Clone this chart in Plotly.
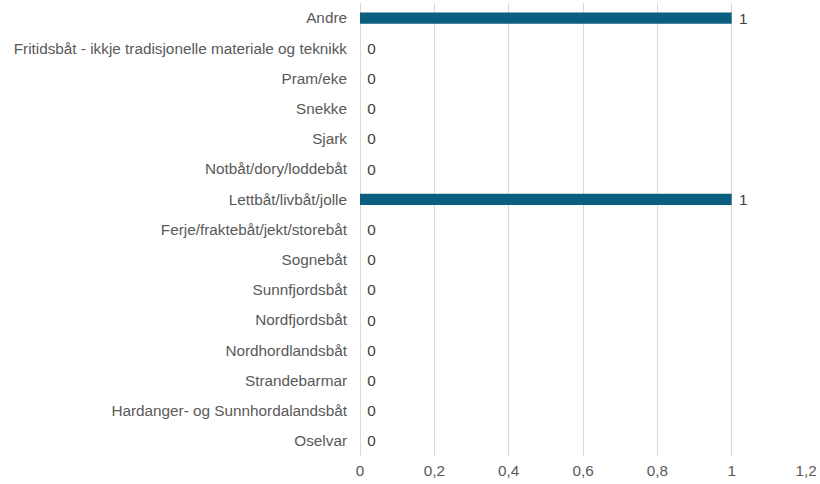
import plotly.graph_objects as go

categories = [
    "Andre",
    "Fritidsbåt - ikkje tradisjonelle materiale og teknikk",
    "Pram/eke",
    "Snekke",
    "Sjark",
    "Notbåt/dory/loddebåt",
    "Lettbåt/livbåt/jolle",
    "Ferje/fraktebåt/jekt/storebåt",
    "Sognebåt",
    "Sunnfjordsbåt",
    "Nordfjordsbåt",
    "Nordhordlandsbåt",
    "Strandebarmar",
    "Hardanger- og Sunnhordalandsbåt",
    "Oselvar",
]
values = [1, 0, 0, 0, 0, 0, 1, 0, 0, 0, 0, 0, 0, 0, 0]
x_ticks = [0, 0.2, 0.4, 0.6, 0.8, 1, 1.2]

FONT = "Liberation Sans, Arial, sans-serif"
FS = 15.3

fig = go.Figure(go.Bar(
    y=categories,
    x=values,
    orientation="h",
    marker=dict(color="#0c5e80", line=dict(width=0)),
    text=["\u00a0" + str(v) for v in values],
    textposition="outside",
    constraintext="none",
    textfont=dict(family=FONT, size=FS, color="#404040"),
    cliponaxis=False,
    width=0.37,
    hoverinfo="skip",
))

fig.update_layout(
    width=820, height=484,
    autosize=False,
    margin=dict(l=360, r=14, t=3, b=28, autoexpand=False),
    paper_bgcolor="white",
    plot_bgcolor="white",
    separators=",.",
    font=dict(family=FONT, size=FS, color="#595959"),
    showlegend=False,
    xaxis=dict(
        range=[0, 1.2],
        tickvals=x_ticks,
        showgrid=True,
        gridcolor="#d9d9d9",
        gridwidth=1,
        zeroline=True,
        zerolinecolor="#d9d9d9",
        zerolinewidth=1,
        showline=False,
        automargin=False,
        ticklabelstandoff=4,
        tickfont=dict(size=FS, color="#595959"),
    ),
    yaxis=dict(
        categoryorder="array",
        categoryarray=categories[::-1],
        autorange=True,
        showgrid=False,
        zeroline=False,
        showline=False,
        automargin=False,
        ticklabelstandoff=12,
        tickfont=dict(size=FS, color="#595959"),
    ),
)

fig.write_html(
    "out.html",
    config={"displayModeBar": False},
    post_script="document.body.style.margin='0';document.body.style.padding='0';",
)
